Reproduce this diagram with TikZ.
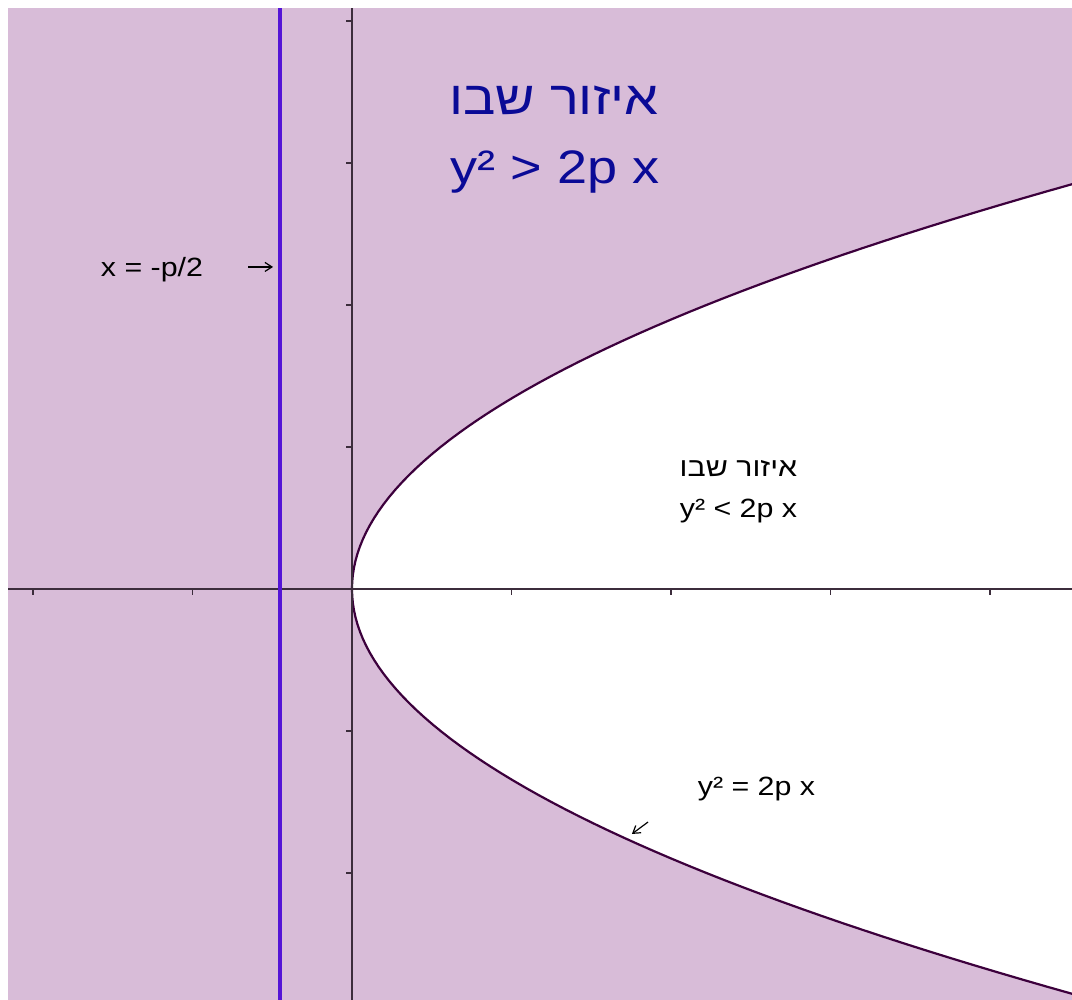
\documentclass[tikz,border=0pt]{standalone}
\usepackage{fontspec}
\setmainfont{Liberation Sans}
\newfontfamily\hebfont[Script=Hebrew]{Liberation Sans}
\TeXXeTstate=1
\usetikzlibrary{arrows.meta}
\definecolor{regionfill}{RGB}{216,188,216}
\definecolor{directrixcol}{RGB}{84,20,214}
\definecolor{curvecol}{RGB}{60,0,60}
\definecolor{axiscol}{RGB}{60,45,60}
\definecolor{bigtextcol}{RGB}{10,10,150}

\begin{document}
\begin{tikzpicture}[x=79.75bp, y=71bp,
 bigtext/.style={font=\fontsize{23.5bp}{28bp}\selectfont, text=bigtextcol, anchor=base, xscale=1.15, inner sep=0pt},
 smalltext/.style={font=\fontsize{13.2bp}{16bp}\selectfont, anchor=base, xscale=1.15, inner sep=0pt},
 axis/.style={axiscol, line width=0.75bp},
 pointer/.style={-{Straight Barb[length=3.5bp,width=4.5bp]}, line width=0.6bp}]
\useasboundingbox (-2.2069,-2.8944) rectangle (4.5141,4.1479);
% shaded region y^2 > 2px
\fill[regionfill] (-2.1567,-2.8944) rectangle (4.5141,4.0915);
\begin{scope}
 \clip (-2.1567,-2.8944) rectangle (4.5141,4.0915);
 \fill[white] plot[domain=-3:3, samples=121] ({(\x)^2/1.8},\x) -- (5,3) -- (5,-3) -- cycle;
 \draw[curvecol, line width=1.1bp] plot[domain=-3:3, samples=121] ({(\x)^2/1.8},\x);
\end{scope}
% axes and ticks
\draw[axis] (-2.1567,0) -- (4.5141,0);
\draw[axis] (0,-2.8944) -- (0,4.0915);
\foreach \t in {-2,-1,1,2,3,4}
 \draw[axis] (\t,0) -- ++(0,-3bp);
\foreach \t in {-2,-1,1,2,3,4}
 \draw[axis] (0,\t) -- ++(-3bp,0);
% directrix
\draw[directrixcol, line width=1.8bp] (-0.45,-2.8944) -- (-0.45,4.0915);
% labels
\node[bigtext] (outertitle) at (1.266,3.338) {\hebfont\beginR איזור שבו\endR};
\node[bigtext] (outerineq) at (1.273,2.859) {y² > 2p x};
\node[smalltext] (innertitle) at (2.423,0.789) {\hebfont\beginR איזור שבו\endR};
\node[smalltext] (innerineq) at (2.423,0.507) {y² < 2p x};
\node[smalltext] (directrixlabel) at (-1.254,2.204) {x = -p/2};
\node[smalltext] (curvelabel) at (2.536,-1.451) {y² = 2p x};
\coordinate (dirtail) at (-0.652,2.268);
\coordinate (dirhead) at (-0.495,2.268);
\coordinate (curvetail) at (1.856,-1.641);
\coordinate (curvehead) at (1.755,-1.725);
\draw[pointer] (dirtail) -- (dirhead);
\draw[pointer] (curvetail) -- (curvehead);
\end{tikzpicture}
\end{document}
